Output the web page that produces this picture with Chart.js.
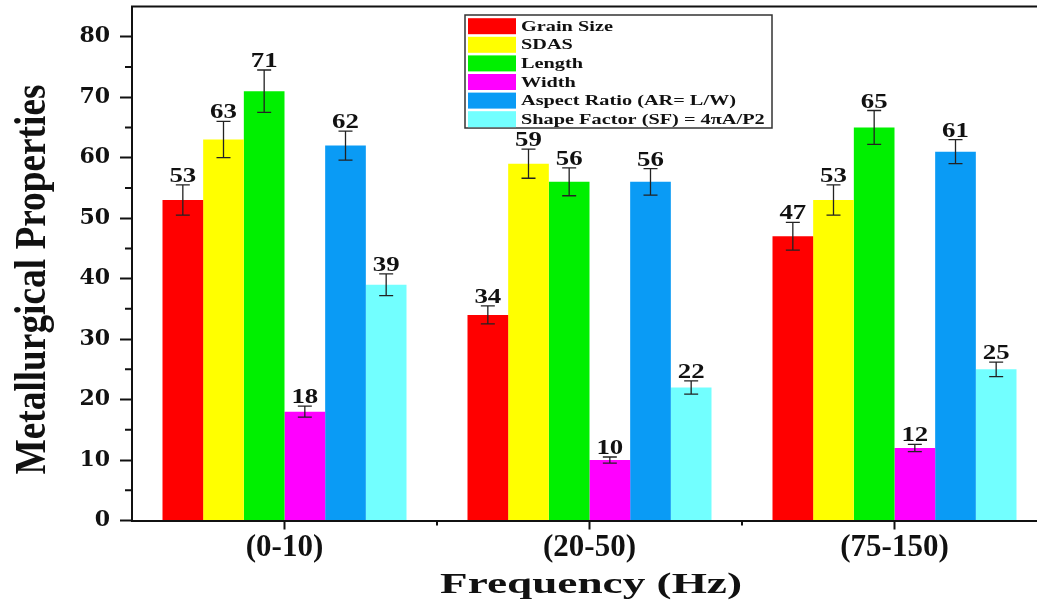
<!DOCTYPE html>
<html><head><meta charset="utf-8">
<script src="https://cdn.jsdelivr.net/npm/chart.js@4.4.1/dist/chart.umd.min.js"></script>
<style>
html,body{margin:0;padding:0;background:#fff;overflow:hidden;}
#wrap{position:relative;width:1060px;height:602px;}
</style></head><body>
<div id="wrap"><canvas id="c"></canvas></div>
<script>
const categories = ['(0-10)', '(20-50)', '(75-150)'];
const seriesNames = ['Grain Size', 'SDAS', 'Length', 'Width', 'Aspect Ratio (AR= L/W)', 'Shape Factor (SF) = 4\u03C0A/P2'];
const grainSize = [53, 34, 47];
const sdas = [63, 59, 53];
const lengthVals = [71, 56, 65];
const widthVals = [18, 10, 12];
const aspectRatio = [62, 56, 61];
const shapeFactor = [39, 22, 25];
const grainSizeErr = [2.5, 1.5, 2.3];
const sdasErr = [3.0, 2.4, 2.5];
const lengthErr = [3.5, 2.3, 2.8];
const widthErr = [0.9, 0.5, 0.6];
const aspectRatioErr = [2.4, 2.2, 2.0];
const shapeFactorErr = [1.8, 1.1, 1.2];
const yTicks = [0, 10, 20, 30, 40, 50, 60, 70, 80];
const yMinorTicks = [5, 15, 25, 35, 45, 55, 65, 75];
const yTitle = 'Metallurgical Properties';
const xTitle = 'Frequency (Hz)';

const colors = ['#FF0000', '#FFFF00', '#00F000', '#FF00FF', '#0A9BF5', '#72FFFF'];
const values = [grainSize, sdas, lengthVals, widthVals, aspectRatio, shapeFactor];
const errs = [grainSizeErr, sdasErr, lengthErr, widthErr, aspectRatioErr, shapeFactorErr];

const datasets = seriesNames.map((n, i) => ({
  label: n, data: values[i], errors: errs[i],
  backgroundColor: colors[i], borderWidth: 0,
  barPercentage: 1.0, categoryPercentage: 0.8
}));

function stretchText(ctx, text, x, y, sx, align) {
  ctx.save();
  ctx.translate(x, y);
  ctx.scale(sx, 1);
  ctx.textAlign = align;
  ctx.fillText(text, 0, 0);
  ctx.restore();
}

const extras = {
  id: 'extras',
  afterDatasetsDraw(chart) {
    const ctx = chart.ctx, ys = chart.scales.y;
    ctx.save();
    chart.data.datasets.forEach((ds, i) => {
      const meta = chart.getDatasetMeta(i);
      meta.data.forEach((bar, j) => {
        const v = ds.data[j], e = ds.errors[j];
        const t = ys.getPixelForValue(v + e), b = ys.getPixelForValue(v - e);
        ctx.strokeStyle = '#222'; ctx.lineWidth = 1.3;
        ctx.beginPath();
        ctx.moveTo(bar.x, t); ctx.lineTo(bar.x, b);
        ctx.moveTo(bar.x - 7, t); ctx.lineTo(bar.x + 7, t);
        ctx.moveTo(bar.x - 7, b); ctx.lineTo(bar.x + 7, b);
        ctx.stroke();
        ctx.fillStyle = '#111';
        ctx.font = 'bold 22px "Liberation Serif"';
        ctx.textBaseline = 'alphabetic';
        stretchText(ctx, String(v), bar.x, t - 3, 1.22, 'center');
      });
    });
    ctx.restore();
  },
  afterDraw(chart) {
    const ctx = chart.ctx, ca = chart.chartArea, ys = chart.scales.y, xs = chart.scales.x;
    ctx.save();
    ctx.strokeStyle = '#111'; ctx.lineWidth = 2;
    ctx.beginPath(); ctx.moveTo(ca.left - 1, ca.top); ctx.lineTo(ca.right, ca.top); ctx.stroke();
    ctx.beginPath();
    yMinorTicks.forEach(v => { const p = ys.getPixelForValue(v); ctx.moveTo(ca.left - 7, p); ctx.lineTo(ca.left, p); });
    for (let i = 1; i < categories.length; i++) {
      const p = (xs.getPixelForValue(i - 1) + xs.getPixelForValue(i)) / 2;
      ctx.moveTo(p, ca.bottom); ctx.lineTo(p, ca.bottom + 5);
    }
    ctx.stroke();

    ctx.fillStyle = '#111';
    ctx.save();
    ctx.translate(45, (ca.top + ca.bottom) / 2 + 16);
    ctx.rotate(-Math.PI / 2);
    ctx.font = 'bold 44px "Liberation Serif"';
    ctx.textAlign = 'center'; ctx.textBaseline = 'alphabetic';
    const w1 = ctx.measureText(yTitle).width;
    ctx.scale(390 / w1, 1);
    ctx.fillText(yTitle, 0, 0);
    ctx.restore();

    ctx.font = 'bold 30px "Liberation Serif"';
    ctx.textBaseline = 'alphabetic';
    const w2 = ctx.measureText(xTitle).width;
    stretchText(ctx, xTitle, 591, 593, 302 / w2, 'center');

    const lx = ca.left + 333, ly = 15, lw = 307, lh = 113;
    ctx.fillStyle = '#fff';
    ctx.fillRect(lx, ly, lw, lh);
    ctx.strokeStyle = '#333'; ctx.lineWidth = 1.5;
    ctx.strokeRect(lx, ly, lw, lh);
    ctx.font = 'bold 14px "Liberation Serif"';
    ctx.textBaseline = 'middle';
    chart.data.datasets.forEach((ds, i) => {
      const cy = ly + 11.2 + i * 18.6;
      ctx.fillStyle = ds.backgroundColor;
      ctx.fillRect(lx + 3, cy - 8, 48, 16);
      ctx.fillStyle = '#111';
      stretchText(ctx, ds.label, lx + 56, cy + 1, 1.45, 'left');
    });
    ctx.restore();
  }
};

new Chart(document.getElementById('c'), {
  type: 'bar',
  data: { labels: categories, datasets },
  options: {
    responsive: true, maintainAspectRatio: false, animation: false,
    layout: { padding: { left: 0, right: 13, top: 6.5, bottom: 0 } },
    plugins: { legend: { display: false }, tooltip: { enabled: false } },
    scales: {
      x: {
        type: 'category', offset: true,
        grid: { display: true, offset: false, drawOnChartArea: false, drawTicks: true, tickLength: 9, tickWidth: 2, tickColor: '#111' },
        border: { display: true, color: '#111', width: 2 },
        ticks: { color: '#111', font: { family: '"Liberation Serif"', weight: 'bold', size: 31 }, padding: 0, maxRotation: 0 },
        afterFit(s) { s.height = 81.5; s.paddingLeft = 0; s.paddingRight = 0; }
      },
      y: {
        min: 0, max: 85,
        grid: { display: true, drawOnChartArea: false, drawTicks: true, tickLength: 12, tickWidth: 2, tickColor: '#111' },
        border: { display: true, color: '#111', width: 2 },
        ticks: { color: '#111', font: { family: '"DejaVu Serif"', weight: 'bold', size: 22 }, padding: 10 },
        afterBuildTicks(s) { s.ticks = yTicks.map(v => ({ value: v })); },
        afterFit(s) { s.width = 132; s.paddingTop = 0; s.paddingBottom = 0; }
      }
    }
  },
  plugins: [extras]
});
</script>
</body></html>
